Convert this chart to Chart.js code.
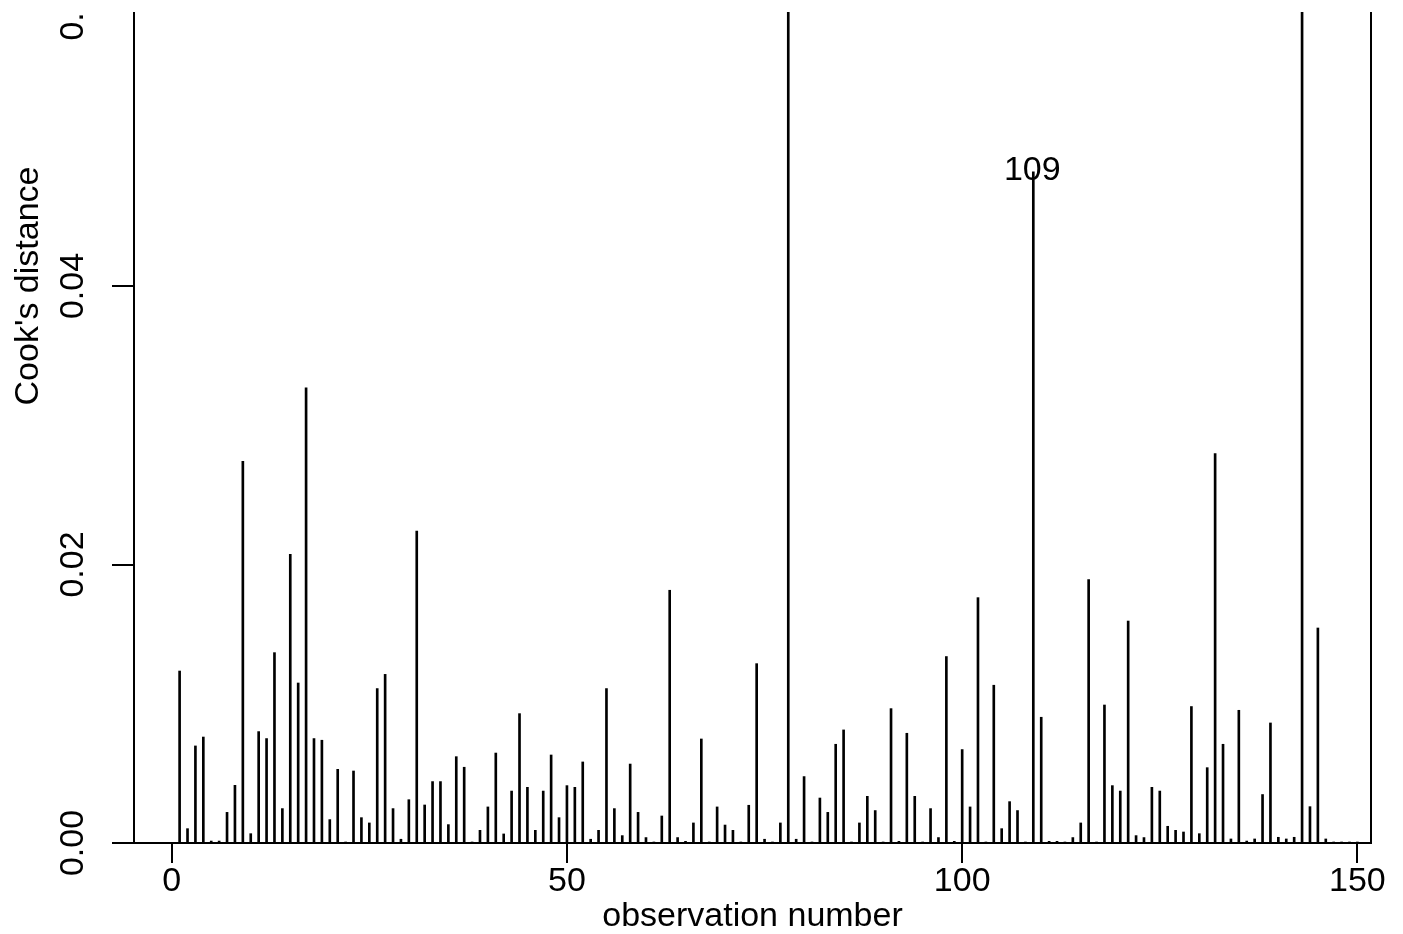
<!DOCTYPE html>
<html>
<head>
<meta charset="utf-8">
<script src="https://cdn.jsdelivr.net/npm/chart.js@4/dist/chart.umd.min.js"></script>
<style>
  body { margin: 0; background: #fff; overflow: hidden; }
  #wrap { position: absolute; left: 0; top: -300px; width: 1403px; height: 1234px; }
  #topmask { position: absolute; left: 0; top: 0; width: 1403px; height: 12px; background: #fff; }
</style>
</head>
<body>
<div id="wrap"><canvas id="cook" width="1403" height="1234"></canvas></div>
<div id="topmask"></div>
<script>
// observation numbers (x)
var obsNumbers = [
  1, 2, 3, 4, 5, 6, 7, 8, 9, 10, 11, 12, 13, 14, 15, 16, 17, 18, 19, 20,
  21, 22, 23, 24, 25, 26, 27, 28, 29, 30, 31, 32, 33, 34, 35, 36, 37, 38, 39, 40,
  41, 42, 43, 44, 45, 46, 47, 48, 49, 50, 51, 52, 53, 54, 55, 56, 57, 58, 59, 60,
  61, 62, 63, 64, 65, 66, 67, 68, 69, 70, 71, 72, 73, 74, 75, 76, 77, 78, 79, 80,
  81, 82, 83, 84, 85, 86, 87, 88, 89, 90, 91, 92, 93, 94, 95, 96, 97, 98, 99, 100,
  101, 102, 103, 104, 105, 106, 107, 108, 109, 110, 111, 112, 113, 114, 115, 116, 117, 118, 119, 120,
  121, 122, 123, 124, 125, 126, 127, 128, 129, 130, 131, 132, 133, 134, 135, 136, 137, 138, 139, 140,
  141, 142, 143, 144, 145, 146, 147, 148, 149, 150
];

// Cook's distance
var cooksD = [
  0.01235, 0.00103, 0.00697, 0.00761, 0.00014, 0.00014, 0.0022, 0.00414, 0.02741, 0.00067,
  0.0080, 0.0075, 0.01367, 0.00247, 0.02073, 0.01149, 0.03268, 0.0075, 0.00738, 0.00168,
  0.00529, 0.00002, 0.00517, 0.00182, 0.00144, 0.01109, 0.01211, 0.00247, 0.00027, 0.00311,
  0.0224, 0.00273, 0.00441, 0.00441, 0.00132, 0.0062, 0.00544, 0.00003, 0.00091, 0.00259,
  0.00646, 0.00065, 0.00373, 0.00929, 0.004, 0.00091, 0.00373, 0.00632, 0.00182, 0.00412,
  0.004, 0.00582, 0.00027, 0.00091, 0.01109, 0.00247, 0.00053, 0.00567, 0.0022, 0.00039,
  0.00002, 0.00194, 0.01815, 0.00039, 0.00012, 0.00144, 0.00747, 0.00003, 0.00259, 0.00129,
  0.00091, 0.00002, 0.00271, 0.01288, 0.00027, 0.00003, 0.00144, 0.074, 0.00027, 0.00477,
  0.00002, 0.00323, 0.0022, 0.00709, 0.00812, 0.00003, 0.00144, 0.00335, 0.00233, 0.00002,
  0.00965, 0.00012, 0.00788, 0.00335, 0.00003, 0.00247, 0.00039, 0.01339, 0.00012, 0.00671,
  0.00259, 0.01762, 0.00002, 0.01133, 0.00103, 0.00297, 0.00233, 0.00003, 0.0482, 0.00903,
  0.00012, 0.00012, 0.00002, 0.00039, 0.00144, 0.01891, 0.00003, 0.00991, 0.00412, 0.00373,
  0.01594, 0.00053, 0.00039, 0.004, 0.00373, 0.0012, 0.00091, 0.00079, 0.0098, 0.00067,
  0.00541, 0.02796, 0.00709, 0.00029, 0.00953, 0.00014, 0.00029, 0.00348, 0.00862, 0.00041,
  0.00029, 0.00041, 0.069, 0.00261, 0.01544, 0.00029, 0.00002, 0.00003, 0.00002, 0.00002
];

var xTicks = [0, 50, 100, 150];
var yTicks = [0, 0.02, 0.04, 0.06, 0.08];
var labelledObs = [109];

var fontFamily = "'Liberation Sans', Arial, sans-serif";

var points = [];
for (var i = 0; i < obsNumbers.length; i++) {
  points.push({ x: obsNumbers[i], y: cooksD[i] });
}

// y tick labels are drawn rotated (parallel to the axis), and the point label
var extraText = {
  id: "extraText",
  afterDraw: function (chart) {
    var ctx = chart.ctx;
    var ys = chart.scales.y;
    var xs = chart.scales.x;
    ctx.save();
    ctx.fillStyle = "#000";
    ctx.font = "34px " + fontFamily;
    ctx.textAlign = "center";
    ctx.textBaseline = "alphabetic";
    yTicks.forEach(function (v) {
      var py = ys.getPixelForValue(v);
      ctx.save();
      ctx.translate(83, py);
      ctx.rotate(-Math.PI / 2);
      ctx.fillText(v.toFixed(2), 0, 0);
      ctx.restore();
    });
    labelledObs.forEach(function (n) {
      var idx = obsNumbers.indexOf(n);
      var px = xs.getPixelForValue(n);
      var py = ys.getPixelForValue(cooksD[idx]);
      ctx.fillText(String(n), px - 1, py + 8);
    });
    ctx.restore();
  },
};

new Chart(document.getElementById("cook"), {
  type: "bar",
  data: {
    datasets: [
      {
        data: points,
        backgroundColor: "#000",
        borderWidth: 0,
        barThickness: 2,
      },
    ],
  },
  options: {
    responsive: false,
    animation: false,
    layout: { padding: { top: 29, left: 0, right: 0, bottom: 0 } },
    plugins: { legend: { display: false }, tooltip: { enabled: false } },
    scales: {
      x: {
        type: "linear",
        offset: false,
        min: -4.77,
        max: 151.72,
        afterBuildTicks: function (s) {
          s.ticks = xTicks.map(function (v) { return { value: v }; });
        },
        afterFit: function (s) { s.height = 91; },
        grid: { offset: false, drawOnChartArea: false, drawTicks: true, tickLength: 20, color: "#000", lineWidth: 2 },
        border: { display: true, color: "#000", width: 2 },
        ticks: {
          color: "#000",
          padding: -2,
          maxRotation: 0,
          font: { family: fontFamily, size: 34 },
          callback: function (v) { return String(v); },
        },
        title: {
          display: true,
          text: "observation number",
          color: "#000",
          padding: { top: 0, bottom: 0 },
          font: { family: fontFamily, size: 34, lineHeight: 1 },
        },
      },
      y: {
        position: "left",
        min: 0,
        max: 0.08,
        afterBuildTicks: function (s) {
          s.ticks = yTicks.map(function (v) { return { value: v }; });
        },
        afterFit: function (s) { s.width = 134; },
        grid: { drawOnChartArea: false, drawTicks: true, tickLength: 22, color: "#000", lineWidth: 2 },
        border: { display: true, color: "#000", width: 2 },
        ticks: { display: false },
        title: {
          display: true,
          text: "Cook's distance",
          color: "#000",
          padding: { top: 12, bottom: 0 },
          font: { family: fontFamily, size: 34, lineHeight: 1 },
        },
      },
      y2: {
        position: "right",
        min: 0,
        max: 0.08,
        afterFit: function (s) { s.width = 32; },
        grid: { drawOnChartArea: false, drawTicks: false },
        border: { display: true, color: "#000", width: 2 },
        ticks: { display: false },
      },
    },
  },
  plugins: [extraText],
});
</script>
</body>
</html>
